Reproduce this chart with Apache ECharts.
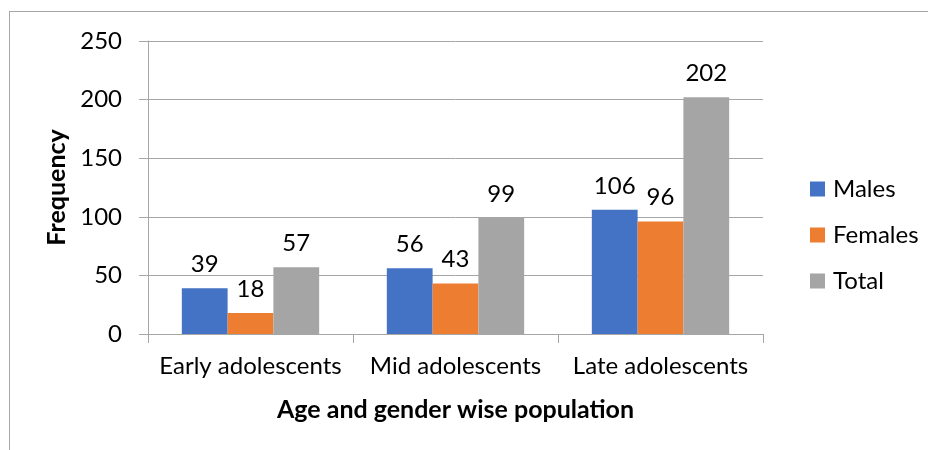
<!DOCTYPE html>
<html>
<head>
<meta charset="utf-8">
<script src="https://cdn.jsdelivr.net/npm/echarts@6/dist/echarts.min.js"></script>
<style>
  html, body { margin: 0; padding: 0; background: #fff; }
  #frame { position: absolute; left: 9px; top: 11px; width: 940px; height: 460px; border: 1px solid #a6a6a6; box-sizing: border-box; }
  #chart { position: absolute; left: 0; top: 0; width: 928px; height: 450px; }
</style>
</head>
<body>
<div id="frame"></div>
<div id="chart"></div>
<script>
const categories = ['Early adolescents', 'Mid adolescents', 'Late adolescents'];
const males = [39, 56, 106];
const females = [18, 43, 96];
const total = [57, 99, 202];
const yTicks = [0, 50, 100, 150, 200, 250];

const FONT = 'Lato, "Noto Sans", sans-serif';
const chart = echarts.init(document.getElementById('chart'), null, { renderer: 'canvas' });

function barSeries(name, data, color) {
  return {
    name: name,
    type: 'bar',
    data: data,
    barGap: '0%',
    barCategoryGap: '33%',
    itemStyle: { color: color },
    label: {
      show: true,
      position: 'top',
      distance: 12,
      color: '#000',
      fontSize: 24,
      fontFamily: FONT
    }
  };
}

chart.setOption({
  animation: false,
  textStyle: { fontFamily: FONT },
  grid: { left: 148, right: 165, top: 41, bottom: 116, containLabel: false },
  legend: {
    orient: 'vertical',
    left: 805,
    top: 172,
    itemWidth: 15,
    itemHeight: 15,
    itemGap: 22,
    icon: 'rect',
    textStyle: { fontSize: 24, color: '#000', fontFamily: FONT, padding: [0, 0, 0, 3] },
    data: ['Males', 'Females', 'Total']
  },
  xAxis: {
    type: 'category',
    data: categories,
    name: 'Age and gender wise population',
    nameLocation: 'middle',
    nameGap: 63,
    nameTextStyle: { fontSize: 25, fontWeight: 'bold', color: '#000', fontFamily: FONT },
    axisLine: { lineStyle: { color: '#a6a6a6', width: 1 } },
    axisTick: { show: true, length: 9, alignWithLabel: false, lineStyle: { color: '#a6a6a6' } },
    axisLabel: { fontSize: 24, color: '#000', margin: 20, fontFamily: FONT, interval: 0, hideOverlap: false }
  },
  yAxis: {
    type: 'value',
    min: yTicks[0],
    max: yTicks[yTicks.length - 1],
    interval: 50,
    name: 'Frequency',
    nameLocation: 'middle',
    nameGap: 73,
    nameRotate: 90,
    nameTextStyle: { fontSize: 25, fontWeight: 'bold', color: '#000', fontFamily: FONT },
    axisLine: { show: true, lineStyle: { color: '#a6a6a6', width: 1 } },
    axisTick: { show: true, length: 9, lineStyle: { color: '#a6a6a6' } },
    axisLabel: { fontSize: 24, color: '#000', margin: 26, fontFamily: FONT },
    splitLine: { show: true, lineStyle: { color: '#a6a6a6', width: 1 } }
  },
  series: [
    barSeries('Males', males, '#4472c4'),
    barSeries('Females', females, '#ed7d31'),
    barSeries('Total', total, '#a5a5a5')
  ]
});
</script>
</body>
</html>
